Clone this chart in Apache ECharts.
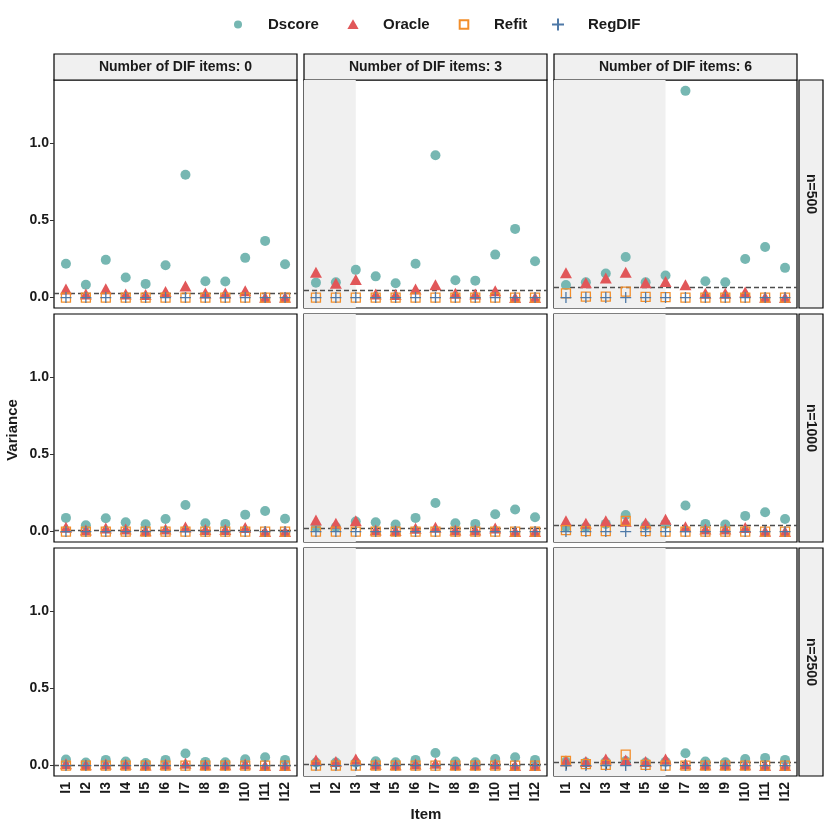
<!DOCTYPE html>
<html><head><meta charset="utf-8">
<script src="https://cdn.jsdelivr.net/npm/echarts@6/dist/echarts.min.js"></script>
<style>html,body{margin:0;padding:0;background:#fff}#c{width:830px;height:830px}</style>
</head><body><div id="c"></div>
<script>
// ---------- data ----------
const items = ['I1','I2','I3','I4','I5','I6','I7','I8','I9','I10','I11','I12'];
const methods = ['Dscore','Oracle','Refit','RegDIF'];
const difLabels = ['Number of DIF items: 0','Number of DIF items: 3','Number of DIF items: 6'];
const difCounts = [0, 3, 6];
const sizeLabels = ['n=500','n=1000','n=2500'];
const yTicks = [0, 0.5, 1.0];

// n=500
const dscore500 = [
  [0.22, 0.084, 0.245, 0.13, 0.089, 0.21, 0.797, 0.106, 0.104, 0.258, 0.368, 0.216],
  [0.097, 0.10, 0.18, 0.138, 0.093, 0.22, 0.924, 0.113, 0.11, 0.279, 0.446, 0.236],
  [0.082, 0.10, 0.156, 0.264, 0.10, 0.143, 1.342, 0.106, 0.10, 0.251, 0.329, 0.193]
];
const oracle500 = [
  [0.056, 0.024, 0.058, 0.024, 0.02, 0.04, 0.076, 0.03, 0.03, 0.045, 0.003, 0.003],
  [0.165, 0.093, 0.117, 0.024, 0.02, 0.056, 0.084, 0.028, 0.024, 0.045, 0.0, 0.0],
  [0.162, 0.097, 0.128, 0.164, 0.097, 0.104, 0.084, 0.028, 0.028, 0.037, 0.002, 0.0]
];
const refit500 = [
  [0,0,0,0,0,0,0,0,0,0,0,0],
  [0,0,0,0,0,0,0,0,0,0,0,0],
  [0.028, 0.006, 0.006, 0.039, 0.005, 0.003, 0, 0, 0, 0, 0, 0]
];
const regdif500 = [
  [0,0,0,0,0,0,0,0,0,0,0,0],
  [0,0,0,0,0,0,0,0,0,0,0,0],
  [0,0,0,0,0,0,0,0,0,0,0,0]
];
const refLine500 = [0.028, 0.052, 0.074];

// n=1000
const dscore1000 = [
  [0.089, 0.041, 0.087, 0.06, 0.047, 0.082, 0.173, 0.054, 0.05, 0.11, 0.134, 0.084],
  [0.03, 0.03, 0.065, 0.06, 0.046, 0.089, 0.186, 0.054, 0.05, 0.113, 0.143, 0.093],
  [0.03, 0.03, 0.05, 0.108, 0.04, 0.05, 0.169, 0.05, 0.046, 0.102, 0.126, 0.082]
];
const oracle1000 = [
  [0.028, 0.011, 0.024, 0.017, 0.006, 0.017, 0.03, 0.013, 0.013, 0.026, 0, 0],
  [0.076, 0.054, 0.071, 0.011, 0.007, 0.022, 0.028, 0.011, 0.011, 0.024, 0, 0],
  [0.071, 0.054, 0.071, 0.067, 0.056, 0.08, 0.032, 0.017, 0.017, 0.026, 0.002, 0]
];
const refit1000 = [
  [0,0,0,0,0,0,0,0,0,0,0,0],
  [0,0,0,0,0,0,0,0,0,0,0,0],
  [0.01, 0.003, 0.003, 0.07, 0.003, 0, 0, 0, 0, 0, 0, 0]
];
const regdif1000 = [
  [0,0,0,0,0,0,0,0,0,0,0,0],
  [0,0,0,0,0,0,0,0,0,0,0,0],
  [0,0,0,0,0,0,0,0,0,0,0,0]
];
const refLine1000 = [0.011, 0.022, 0.041];

// n=2500
const dscore2500 = [
  [0.039, 0.02, 0.037, 0.026, 0.017, 0.037, 0.078, 0.024, 0.022, 0.041, 0.054, 0.037],
  [0.02, 0.02, 0.02, 0.028, 0.022, 0.037, 0.082, 0.026, 0.022, 0.043, 0.054, 0.037],
  [0.025, 0.02, 0.025, 0.03, 0.02, 0.025, 0.08, 0.026, 0.022, 0.043, 0.05, 0.037]
];
const oracle2500 = [
  [0.012, 0.006, 0.01, 0.008, 0.004, 0.008, 0.015, 0.006, 0.006, 0.01, 0, 0],
  [0.037, 0.026, 0.043, 0.008, 0.006, 0.01, 0.015, 0.006, 0.006, 0.01, 0, 0],
  [0.032, 0.026, 0.043, 0.037, 0.026, 0.043, 0.01, 0.005, 0.005, 0.005, 0, 0]
];
const refit2500 = [
  [0,0,0,0,0,0,0,0,0,0,0,0],
  [0,0,0,0,0,0,0,0,0,0,0,0],
  [0.03, 0.01, 0.005, 0.071, 0.005, 0, 0, 0, 0, 0, 0, 0]
];
const regdif2500 = [
  [0,0,0,0,0,0,0,0,0,0,0,0],
  [0,0,0,0,0,0,0,0,0,0,0,0],
  [0,0,0,0,0,0,0,0,0,0,0,0]
];
const refLine2500 = [0.004, 0.009, 0.017];

// ---------- layout / style ----------
const rowsData = [
  {Dscore: dscore500, Oracle: oracle500, Refit: refit500, RegDIF: regdif500, line: refLine500},
  {Dscore: dscore1000, Oracle: oracle1000, Refit: refit1000, RegDIF: regdif1000, line: refLine1000},
  {Dscore: dscore2500, Oracle: oracle2500, Refit: refit2500, RegDIF: regdif2500, line: refLine2500}
];
const colLeft = [54, 304, 554];
const panelW = 243;
const rowTop = [80, 314, 548];
const panelH = 228;
const yMin = -0.0675, yMax = 1.4125;
const xMin = 0.4, xMax = 12.6;
const FONT = 'Liberation Sans';
const txtColor = '#1a1a1a';

const styles = {
  Dscore: {symbol: 'circle', symbolSize: 10, itemStyle: {color: '#76B7B2', opacity: 1}},
  Oracle: {symbol: 'triangle', symbolSize: [12, 11], itemStyle: {color: '#E15759', opacity: 1}},
  Refit: {symbol: 'rect', symbolSize: 9, itemStyle: {color: 'rgba(255,255,255,0)', borderColor: '#F28E2B', borderWidth: 1.3, opacity: 1}},
  RegDIF: {symbol: 'path://M5,0L5,10M0,5L10,5', symbolSize: 11, itemStyle: {color: 'rgba(255,255,255,0)', borderColor: '#4E79A7', borderWidth: 1.3, opacity: 1}}
};
// legend key glyphs drawn in a 12x12 frame
const legendIcons = {
  Dscore: 'path://M0,0M12,12M10,6A4,4,0,1,1,2,6A4,4,0,1,1,10,6Z',
  Oracle: 'path://M0,0M12,12M6,0.8L11.6,10.6L0.4,10.6Z',
  Refit: 'path://M0,0M12,12M1.7,1.7L10.3,1.7L10.3,10.3L1.7,10.3Z',
  RegDIF: 'path://M6,0L6,12M0,6L12,6'
};
const legendLeft = [232, 347, 457, 551];

const grids = [], xAxes = [], yAxes = [], series = [], graphics = [];
const xPos = items.map((_, i) => i + 1);

for (let r = 0; r < 3; r++) {
  for (let c = 0; c < 3; c++) {
    const k = r * 3 + c;
    grids.push({left: colLeft[c], top: rowTop[r], width: panelW, height: panelH,
      show: true, borderColor: '#000', borderWidth: 1.2, backgroundColor: '#fff'});
    xAxes.push({gridIndex: k, type: 'value', min: xMin, max: xMax,
      axisLine: {show: false},
      splitLine: {show: false},
      axisTick: {show: r === 2, customValues: xPos, length: 4, lineStyle: {color: '#333'}},
      axisLabel: {show: r === 2, customValues: xPos, formatter: v => items[Math.round(v) - 1],
        rotate: 90, margin: 6, fontSize: 14, fontWeight: 'bold', color: txtColor, fontFamily: FONT}
    });
    yAxes.push({gridIndex: k, type: 'value', min: yMin, max: yMax,
      axisLine: {show: false},
      splitLine: {show: false},
      axisTick: {show: c === 0, customValues: yTicks, length: 4, lineStyle: {color: '#333'}},
      axisLabel: {show: c === 0, customValues: yTicks, formatter: v => v.toFixed(1),
        margin: 5, fontSize: 14, fontWeight: 'bold', color: txtColor, fontFamily: FONT}
    });
    const rd = rowsData[r];
    methods.forEach((m, mi) => {
      const s = Object.assign({
        name: m, type: 'scatter', xAxisIndex: k, yAxisIndex: k,
        z: 2 + mi,
        data: rd[m][c].map((v, i) => [xPos[i], v])
      }, JSON.parse(JSON.stringify(styles[m])));
      if (mi === 0) {
        s.markLine = {silent: true, symbol: 'none', z: 1,
          label: {show: false},
          lineStyle: {type: [5, 3], color: '#4d4d4d', width: 1.4},
          data: [{yAxis: rd.line[c]}]};
        if (difCounts[c] > 0) {
          s.markArea = {silent: true, z: 0,
            itemStyle: {color: '#F0F0F0'},
            data: [[{xAxis: xMin}, {xAxis: difCounts[c]}]]};
        }
      }
      series.push(s);
    });
  }
}

// strips
for (let c = 0; c < 3; c++) {
  graphics.push({type: 'rect', shape: {x: colLeft[c], y: 54, width: panelW, height: 26},
    style: {fill: '#F0F0F0', stroke: '#000', lineWidth: 1.2}});
  graphics.push({type: 'text', x: colLeft[c] + panelW / 2, y: 67,
    style: {text: difLabels[c], fill: txtColor, font: 'bold 14px ' + FONT,
      align: 'center', verticalAlign: 'middle', textAlign: 'center', textVerticalAlign: 'middle'}});
}
for (let r = 0; r < 3; r++) {
  graphics.push({type: 'rect', shape: {x: 799, y: rowTop[r], width: 24, height: panelH},
    style: {fill: '#F0F0F0', stroke: '#000', lineWidth: 1.2}});
  graphics.push({type: 'text', x: 811, y: rowTop[r] + panelH / 2, rotation: -Math.PI / 2,
    style: {text: sizeLabels[r], fill: txtColor, font: 'bold 14px ' + FONT,
      align: 'center', verticalAlign: 'middle', textAlign: 'center', textVerticalAlign: 'middle'}});
}
// axis titles
graphics.push({type: 'text', x: 13, y: 430, rotation: Math.PI / 2,
  style: {text: 'Variance', fill: txtColor, font: 'bold 15px ' + FONT,
    align: 'center', verticalAlign: 'middle', textAlign: 'center', textVerticalAlign: 'middle'}});
graphics.push({type: 'text', x: 426, y: 815,
  style: {text: 'Item', fill: txtColor, font: 'bold 15px ' + FONT,
    align: 'center', verticalAlign: 'middle', textAlign: 'center', textVerticalAlign: 'middle'}});

const legends = methods.map((m, i) => ({
  top: 17, left: legendLeft[i], padding: 0,
  data: [{name: m, icon: legendIcons[m]}],
  itemWidth: 12, itemHeight: 12,
  textStyle: {fontSize: 15, fontWeight: 'bold', color: txtColor, fontFamily: FONT, padding: [0, 0, 0, 19]}
}));

const chart = echarts.init(document.getElementById('c'), null, {renderer: 'canvas'});
chart.setOption({
  animation: false,
  backgroundColor: '#fff',
  legend: legends,
  grid: grids, xAxis: xAxes, yAxis: yAxes, series: series,
  graphic: graphics
});
</script></body></html>
